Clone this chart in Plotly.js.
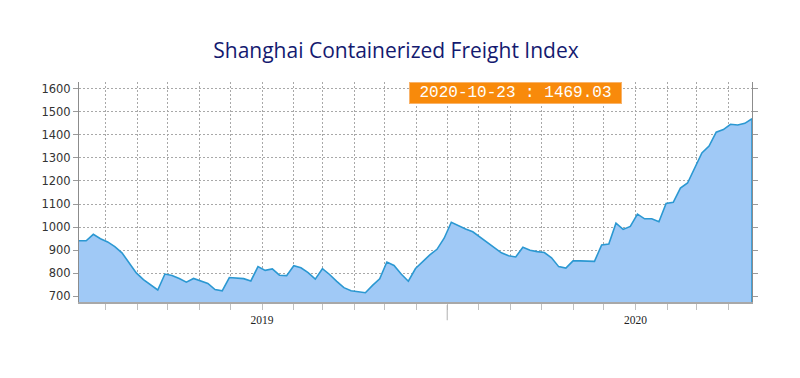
<!DOCTYPE html>
<html>
<head>
<meta charset="utf-8">
<script src="https://cdn.plot.ly/plotly-3.0.1.min.js"></script>
<style>
  html, body { margin: 0; padding: 0; background: #ffffff; }
  #chart { width: 800px; height: 378px; }
</style>
</head>
<body>
<div id="chart"></div>
<script>
// Weekly index values
const firstWeek = '2018-07-06';
const indexValues = [
  941, 941, 969, 950, 936, 916, 889, 845, 802, 773,
  750, 728, 797, 791, 778, 762, 778, 768, 756, 730,
  724, 782, 780, 777, 767, 829, 813, 819, 792, 790,
  833, 824, 803, 775, 820, 795, 765, 738, 725, 721,
  716, 748, 776, 849, 834, 797, 766, 821, 851, 880,
  904, 952, 1021, 1005, 992, 980, 957, 933, 910, 889,
  876, 871, 913, 900, 894, 890, 867, 829, 823, 854,
  854, 853, 852, 923, 927, 1017, 990, 1003, 1056, 1036,
  1036, 1023, 1102, 1107, 1169, 1191, 1257, 1321, 1351, 1411,
  1422, 1445, 1442, 1449, 1469.03
];
const titleText = 'Shanghai Containerized Freight Index';
const latestLabel = '2020-10-23 : 1469.03';
const monthTicks = [
  '2018-08-01','2018-09-01','2018-10-01','2018-11-01','2018-12-01',
  '2019-01-01','2019-02-01','2019-03-01','2019-04-01','2019-05-01','2019-06-01',
  '2019-07-01','2019-08-01','2019-09-01','2019-10-01','2019-11-01','2019-12-01',
  '2020-01-01','2020-02-01','2020-03-01','2020-04-01'
];
const monthTickText = [
  '','','','','',
  '2019','','','','','',
  '','','','','','',
  '2020','','',''
];
const midYearTick = '2019-07-01';
const yTicks = [700, 800, 900, 1000, 1100, 1200, 1300, 1400, 1500, 1600];

// weekly dates (x categories)
const weekDates = [];
(function () {
  const d0 = new Date(firstWeek + 'T00:00:00Z');
  for (let i = 0; i < indexValues.length; i++) {
    const d = new Date(d0.getTime() + i * 7 * 86400000);
    weekDates.push(d.toISOString().slice(0, 10));
  }
})();

const yMin = 676, yMax = 1628;
const lastDate = weekDates[weekDates.length - 1];
const lastValue = indexValues[indexValues.length - 1];

const trace = {
  x: weekDates,
  y: indexValues,
  type: 'scatter',
  mode: 'lines',
  fill: 'tozeroy',
  fillcolor: '#a0c9f6',
  line: { color: '#2b98d2', width: 1.6 },
  hoverinfo: 'x+y'
};

const layout = {
  width: 800,
  height: 378,
  paper_bgcolor: '#ffffff',
  plot_bgcolor: '#ffffff',
  margin: { l: 79, r: 48, t: 82, b: 76 },
  showlegend: false,
  title: {
    text: titleText,
    font: { family: 'Open Sans, Noto Sans, sans-serif', size: 21, color: '#141a70' },
    x: 0.495, xref: 'container', xanchor: 'center',
    y: 0.866, yref: 'container', yanchor: 'middle'
  },
  xaxis: {
    type: 'date',
    range: [weekDates[0], lastDate],
    tickmode: 'array',
    tickvals: monthTicks,
    ticktext: monthTickText,
    showgrid: true,
    gridcolor: '#a8a8a8',
    griddash: '2px,2px',
    gridwidth: 1,
    showline: true,
    linecolor: '#a8a8a8',
    linewidth: 2,
    ticks: 'outside',
    ticklen: 6,
    tickcolor: '#c0c0c0',
    tickfont: { family: 'Liberation Serif, serif', size: 11.5, color: '#222' },
    zeroline: false,
    fixedrange: true
  },
  yaxis: {
    range: [yMin, yMax],
    tickmode: 'array',
    tickvals: yTicks,
    showgrid: true,
    gridcolor: '#a8a8a8',
    griddash: '2px,2px',
    gridwidth: 1,
    showline: true,
    mirror: 'ticks',
    linecolor: '#8c8c8c',
    linewidth: 1,
    ticks: 'outside',
    ticklen: 5,
    tickcolor: '#9a9a9a',
    tickfont: { family: 'DejaVu Sans, sans-serif', size: 11.5, color: '#333' },
    zeroline: false,
    fixedrange: true
  },
  shapes: [
    {
      type: 'line', xref: 'x', yref: 'paper',
      x0: midYearTick, x1: midYearTick, y0: -0.014, y1: -0.083,
      line: { color: '#b0b0b0', width: 1 }
    },
    {
      type: 'line', xref: 'x', yref: 'y',
      x0: lastDate, x1: lastDate, y0: yMin, y1: lastValue,
      line: { color: '#2b98d2', width: 1.6 }
    }
  ],
  annotations: [
    {
      text: latestLabel,
      xref: 'paper', yref: 'paper',
      x: 0.649, y: 0.949,
      xanchor: 'center', yanchor: 'middle',
      showarrow: false,
      bgcolor: '#f88a0b',
      bordercolor: '#f9b36a',
      borderwidth: 1,
      borderpad: 0,
      width: 211,
      height: 20,
      font: { family: 'Liberation Mono, monospace', size: 16, color: '#ffffff' }
    }
  ]
};

Plotly.newPlot('chart', [trace], layout, { displayModeBar: false, staticPlot: true });
</script>
</body>
</html>
